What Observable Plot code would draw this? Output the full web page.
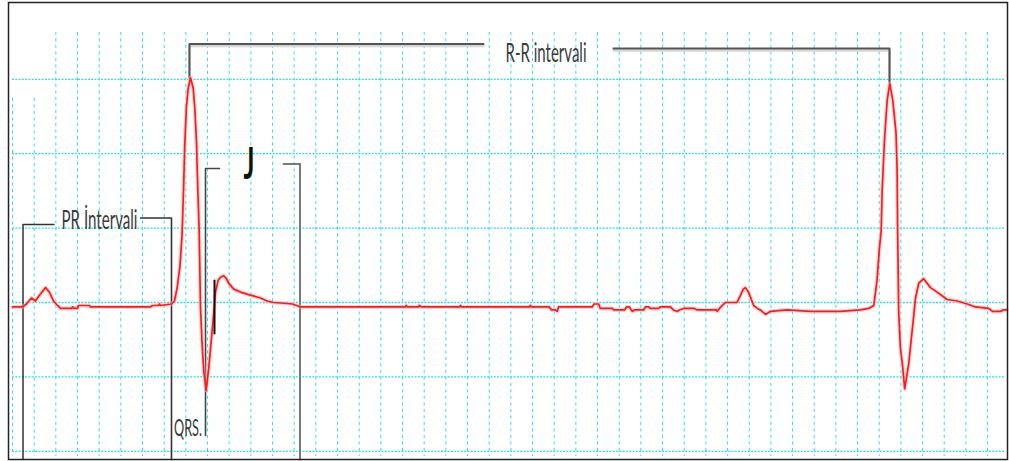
<!DOCTYPE html>
<html>
<head>
<meta charset="utf-8">
<script src="https://cdn.jsdelivr.net/npm/d3@7"></script>
<script src="https://cdn.jsdelivr.net/npm/@observablehq/plot@0.6"></script>
<style>
  html, body { margin: 0; padding: 0; background: #fff; }
  #chart svg { display: block; }
</style>
</head>
<body>
<div id="chart"></div>
<script>
// ECG trace: time (ms) and amplitude (mV)
const ecgT = [0,18.5,25.8,35,42.5,48,61,68,75.7,83,88.6,109,110.8,114.5,120,121.8,142,144,254.7,258.4,269.5,271.4,273.2,293.5,299,304,309,313,315.7,318,321,324.3,328.6,333.6,336.5,339.7,342,344.6,347,349.8,353,357.5,362.3,366.8,371.6,374.7,379.7,384,390,395,399,408.5,421,439,457.8,470,482,500.8,517,531.6,725.5,726.8,729,749.5,751,755,825,827,828.8,954.4,956,958,991,995,1002,1005.5,1008,1070.6,1073.5,1082,1085,1107.5,1110,1130,1133.5,1139,1144,1148,1165,1168.5,1174,1177.7,1192.5,1196,1214.5,1220,1227,1231,1239,1259,1264,1299.6,1301,1305,1310.6,1316,1337.5,1344,1349,1353,1358.6,1368.3,1375,1380.6,1390,1399,1430,1473,1528.5,1565,1580.7,1590,1596,1600,1603.6,1605.4,1609.7,1614.7,1619.4,1625,1631,1633,1634,1636,1639,1643.5,1647,1654.5,1660.8,1667,1673,1682,1694.6,1707,1725.4,1744,1762.6,1777.7,1802,1809,1824,1829,1836];
const ecgV = [-0.03,-0.03,-0.01,0.03,0.01,0.04,0.10,0.07,0.01,-0.02,-0.04,-0.04,-0.03,-0.04,-0.04,-0.02,-0.02,-0.03,-0.03,-0.02,-0.02,-0.01,-0.02,-0.01,0.01,0.10,0.24,0.45,0.75,1.06,1.31,1.44,1.51,1.44,1.31,1.07,0.77,0.48,-0.03,-0.26,-0.46,-0.59,-0.44,-0.26,-0.07,0.07,0.15,0.17,0.18,0.16,0.13,0.09,0.07,0.05,0.03,0.01,0.0,-0.005,-0.01,-0.03,-0.03,-0.02,-0.03,-0.03,-0.02,-0.03,-0.03,-0.02,-0.03,-0.03,-0.02,-0.03,-0.03,-0.05,-0.05,-0.06,-0.03,-0.03,-0.01,-0.01,-0.04,-0.04,-0.05,-0.05,-0.03,-0.03,-0.06,-0.05,-0.05,-0.03,-0.03,-0.04,-0.04,-0.03,-0.03,-0.05,-0.06,-0.05,-0.04,-0.04,-0.05,-0.05,-0.06,-0.04,-0.02,0.0,0.0,0.05,0.09,0.10,0.07,-0.02,-0.04,-0.05,-0.08,-0.06,-0.05,-0.06,-0.06,-0.05,-0.04,-0.02,0.15,0.35,0.48,0.75,1.09,1.36,1.47,1.36,1.14,0.89,0.48,-0.07,-0.30,-0.44,-0.58,-0.41,-0.19,0.03,0.13,0.16,0.10,0.07,0.02,0.01,-0.01,-0.03,-0.04,-0.06,-0.06,-0.05,-0.05];

// Grid (ms per small box: 40, mV per box: 0.5)
const gridTimes = d3.range(0, 1801, 40);
const gridLevels = [1.5, 1.0, 0.5, 0, -0.5, -1.0];

// Annotation brackets (time ms, amplitude mV)
const rrLeftT = [326.7, 326.7, 869.5],   rrLeftV = [1.51, 1.737, 1.737];
const rrRightT = [1109.4, 1619, 1619],   rrRightV = [1.707, 1.707, 1.478];
const prLeftT = [19.4, 19.4, 76.6],      prLeftV = [-1.055, 0.524, 0.524];
const prRightT = [236.3, 293.5, 293.5],  prRightV = [0.568, 0.568, -1.055];
const qrsT = [356.3, 356.3, 382],        qrsV = [-0.894, 0.90, 0.90];
const jRightT = [500.3, 530.7, 530.7],   jRightV = [0.93, 0.93, -1.055];
const jPointT = [372.9, 372.9],          jPointV = [0.148, -0.208];

// Labels
const labelTexts = ["R-R intervali", "PR İntervali", "QRS.", "J"];
const labelT = [984.9, 160.6, 349.8, 436.6];
const labelV = [1.613, 0.497, -0.894, 0.833];

const ecg = ecgT.map((t, i) => ({t, v: ecgV[i]}));
const pts = (T, V) => T.map((t, i) => ({t, v: V[i]}));
const vGrid = gridTimes.map((t, i) => ({t, top: i < 2 ? 1.371 : 1.815}));
const labels = labelTexts.map((s, i) => ({s, t: labelT[i], v: labelV[i]}));

const font = "Lato, 'Open Sans', sans-serif";
const cyan = "#22e2ec";

const svg = Plot.plot({
  width: 1009, height: 461,
  marginLeft: 8, marginRight: 2, marginTop: 2, marginBottom: 2,
  x: {domain: [-7.38, 1836.8], axis: null},
  y: {domain: [-1.055, 2.016], axis: null},
  style: {background: "#fff", overflow: "visible"},
  marks: [
    Plot.ruleX(vGrid, {x: "t", y1: "top", y2: -1.035, stroke: cyan, strokeWidth: 1, strokeDasharray: "3,3.5"}),
    Plot.ruleY(gridLevels, {y: d => d, x1: 0, x2: 1833, stroke: cyan, strokeWidth: 1.3, strokeDasharray: "2,1.3"}),
    // bracket shadows
    Plot.line(pts(rrLeftT, rrLeftV), {x: "t", y: "v", stroke: "#d6d6d6", strokeWidth: 2.5, dy: 2}),
    Plot.line(pts(rrRightT, rrRightV), {x: "t", y: "v", stroke: "#d6d6d6", strokeWidth: 2.5, dy: 2}),
    // brackets
    Plot.line(pts(rrLeftT, rrLeftV), {x: "t", y: "v", stroke: "#555", strokeWidth: 2}),
    Plot.line(pts(rrRightT, rrRightV), {x: "t", y: "v", stroke: "#555", strokeWidth: 2}),
    Plot.line(pts(prLeftT, prLeftV), {x: "t", y: "v", stroke: "#333", strokeWidth: 1.5}),
    Plot.line(pts(prRightT, prRightV), {x: "t", y: "v", stroke: "#333", strokeWidth: 1.6}),
    Plot.line(pts(qrsT, qrsV), {x: "t", y: "v", stroke: "#444", strokeWidth: 1.6}),
    Plot.line(pts(jRightT, jRightV), {x: "t", y: "v", stroke: "#777", strokeWidth: 2}),
    // ECG trace with soft halo
    Plot.line(ecg, {x: "t", y: "v", stroke: "#ffb0b0", strokeWidth: 4, strokeOpacity: 0.55, strokeLinejoin: "round"}),
    Plot.line(ecg, {x: "t", y: "v", stroke: "#ff1a1a", strokeWidth: 1.7, strokeLinejoin: "round"}),
    Plot.line(pts(jPointT, jPointV), {x: "t", y: "v", stroke: "#111", strokeWidth: 2}),
    // labels
    Plot.text(labels.slice(0, 2), {x: "t", y: "v", text: "s", textAnchor: "middle", lineAnchor: "bottom", fontFamily: font, fontSize: 26, fill: "#3a3a3a"}),
    Plot.text([labels[2]], {x: "t", y: "v", text: "s", textAnchor: "end", lineAnchor: "bottom", fontFamily: font, fontSize: 24, fill: "#3a3a3a"}),
    Plot.text([labels[3]], {x: "t", y: "v", text: "s", textAnchor: "middle", lineAnchor: "bottom", fontFamily: font, fontSize: 44, fontWeight: "bold", fill: "#111"}),
    Plot.frame({stroke: "#222", strokeWidth: 1.5})
  ]
});

document.getElementById("chart").appendChild(svg);

// condense labels horizontally to the widths seen in the picture
const fitWidth = {"R-R intervali": 81, "PR İntervali": 76, "QRS.": 28, "J": 11};
svg.querySelectorAll("text").forEach(t => {
  const w = fitWidth[t.textContent];
  if (!w) return;
  const sx = w / t.getComputedTextLength();
  const tr = t.getAttribute("transform") || "";
  const x = t.getAttribute("x"), y = t.getAttribute("y");
  if (x != null || y != null) {
    t.removeAttribute("x"); t.removeAttribute("y");
    t.setAttribute("transform", `${tr} translate(${x || 0},${y || 0}) scale(${sx},1)`);
  } else {
    t.setAttribute("transform", `${tr} scale(${sx},1)`);
  }
});
</script>
</body>
</html>
